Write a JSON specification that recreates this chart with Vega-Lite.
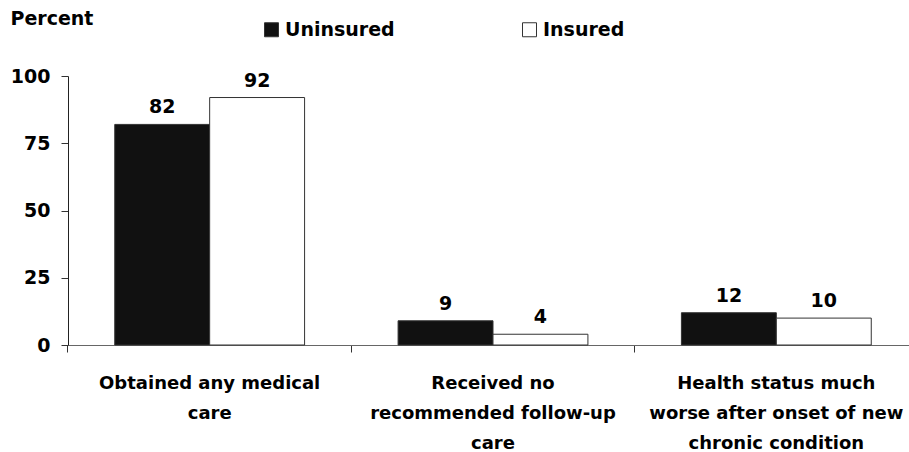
{
  "$schema": "https://vega.github.io/schema/vega-lite/v6.json",
  "width": 841,
  "height": 269,
  "autosize": {"type": "none"},
  "padding": {"left": 68, "top": 76, "right": 0, "bottom": 107},
  "background": "white",
  "config": {
    "view": {"stroke": null},
    "font": "DejaVu Sans",
    "axis": {"labelFont": "DejaVu Sans", "labelFontWeight": "bold", "labelColor": "black", "titleFont": "DejaVu Sans", "titleFontWeight": "bold", "titleColor": "black", "grid": false},
    "legend": {"labelFont": "DejaVu Sans", "labelFontWeight": "bold", "labelColor": "black"}
  },
  "data": {
    "values": [
      {"measure": "Obtained any medical care", "group": "Uninsured", "value": 82},
      {"measure": "Obtained any medical care", "group": "Insured", "value": 92},
      {"measure": "Received no recommended follow-up care", "group": "Uninsured", "value": 9},
      {"measure": "Received no recommended follow-up care", "group": "Insured", "value": 4},
      {"measure": "Health status much worse after onset of new chronic condition", "group": "Uninsured", "value": 12},
      {"measure": "Health status much worse after onset of new chronic condition", "group": "Insured", "value": 10}
    ]
  },
  "encoding": {
    "x": {
      "field": "measure",
      "type": "nominal",
      "sort": null,
      "scale": {"range": [0, 850], "paddingInner": 0.33, "paddingOuter": 0.165},
      "axis": {
        "title": null,
        "labelAngle": 0,
        "labelFontSize": 18,
        "labelBaseline": "alphabetic",
        "labelLineHeight": 30,
        "labelPadding": 36,
        "labelLimit": 400,
        "tickSize": 7,
        "tickColor": "#333",
        "domainColor": "#666",
        "bandPosition": -0.2463,
        "labelExpr": "datum.label == 'Obtained any medical care' ? ['Obtained any medical', 'care'] : datum.label == 'Received no recommended follow-up care' ? ['Received no', 'recommended follow-up', 'care'] : ['Health status much', 'worse after onset of new', 'chronic condition']"
      }
    },
    "xOffset": {"field": "group", "type": "nominal", "sort": ["Uninsured", "Insured"], "scale": {"paddingInner": 0, "paddingOuter": 0}},
    "y": {
      "field": "value",
      "type": "quantitative",
      "scale": {"domain": [0, 100]},
      "axis": {
        "title": "Percent",
        "titleAngle": 0,
        "titleAlign": "left",
        "titleBaseline": "alphabetic",
        "titleX": -58,
        "titleY": -52,
        "titleFontSize": 19,
        "values": [0, 25, 50, 75, 100],
        "labelFontSize": 19,
        "labelPadding": 11,
        "tickSize": 7,
        "tickColor": "#333",
        "domainColor": "#222"
      }
    }
  },
  "layer": [
    {
      "mark": {"type": "bar", "stroke": "#333", "strokeWidth": 1},
      "encoding": {
        "fill": {
          "field": "group",
          "type": "nominal",
          "scale": {"domain": ["Uninsured", "Insured"], "range": ["#111111", "#ffffff"]},
          "legend": {
            "title": null,
            "orient": "none",
            "direction": "horizontal",
            "legendX": 194,
            "legendY": -56,
            "padding": 0,
            "symbolType": "square",
            "symbolSize": 196,
            "symbolStrokeColor": "#333",
            "symbolStrokeWidth": 1,
            "labelFontSize": 19,
            "labelOffset": 4,
            "columnPadding": 125
          }
        }
      }
    },
    {
      "mark": {"type": "text", "fontSize": 19, "fontWeight": "bold", "font": "DejaVu Sans", "baseline": "alphabetic", "dy": -11, "color": "black"},
      "encoding": {"text": {"field": "value", "type": "quantitative"}}
    }
  ]
}
